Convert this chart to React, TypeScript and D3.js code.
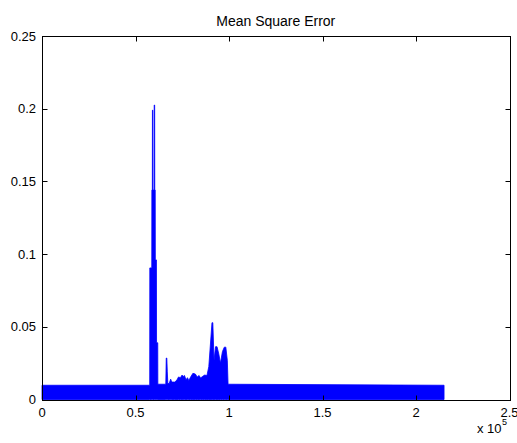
import React from "react";
import * as d3 from "d3";

// Upper envelope of the per-sample mean square error (sample index, value)
const sampleIdx = [
  0, 57600, 57650, 58700, 58750, 59000, 59050, 59250, 59300, 59950,
  60000, 60250, 60300, 60550, 60600, 61200, 61250, 61900, 61950, 66200,
  66450, 66750, 67000, 67300, 68000, 68800, 69400, 71000, 72200, 73000,
  74000, 74900, 75500, 76200, 77000, 77800, 78500, 79500, 80700, 82000,
  83000, 84000, 84800, 86000, 87000, 88200, 89200, 90900, 91350, 92000,
  92800, 93600, 94600, 95400, 96500, 97500, 98300, 99100, 99500, 215000,
];
const mseValue = [
  0.0098, 0.0098, 0.0905, 0.0905, 0.144, 0.144, 0.199, 0.199, 0.144, 0.144,
  0.2025, 0.2025, 0.144, 0.144, 0.096, 0.096, 0.039, 0.039, 0.0105, 0.0105,
  0.0285, 0.0285, 0.019, 0.011, 0.011, 0.014, 0.012, 0.012, 0.0135, 0.0155,
  0.015, 0.0168, 0.0158, 0.0165, 0.0135, 0.015, 0.013, 0.0155, 0.018, 0.0175,
  0.0155, 0.0165, 0.0148, 0.016, 0.0168, 0.0165, 0.0226, 0.0528, 0.0528, 0.027,
  0.0363, 0.0363, 0.031, 0.025, 0.033, 0.036, 0.036, 0.027, 0.0105, 0.0098,
];

const xTicks = [0, 50000, 100000, 150000, 200000, 250000];
const xTickLabels = ["0", "0.5", "1", "1.5", "2", "2.5"];
const yTicks = [0, 0.05, 0.1, 0.15, 0.2, 0.25];
const yTickLabels = ["0", "0.05", "0.1", "0.15", "0.2", "0.25"];

const W = 517;
const H = 443;
const left = 42;
const right = 509.5;
const top = 36;
const bottom = 399.5;
const font = "'Liberation Sans', Arial, Helvetica, sans-serif";

export default function App() {
  const x = d3.scaleLinear().domain([0, 250000]).range([left, right]);
  const y = d3.scaleLinear().domain([0, 0.25]).range([bottom, top]);

  const pts: [number, number][] = sampleIdx.map((s, i) => [s, mseValue[i]]);
  const area = d3
    .area<[number, number]>()
    .x((d) => x(d[0]))
    .y0(y(0))
    .y1((d) => y(d[1]))
    .curve(d3.curveLinear);

  const tickLen = 5;
  const r = (v: number) => Math.round(v) + 0.5;

  return (
    <svg
      width={W}
      height={H}
      style={{ position: "absolute", left: 0, top: 0, background: "#fff" }}
      fontFamily={font}
    >
      <rect x={0} y={0} width={W} height={H} fill="#fff" />
      <path d={area(pts) || ""} fill="#0000ff" stroke="#0000ff" strokeWidth={0.8} />

      {/* axes box */}
      <rect
        x={r(left)}
        y={r(top)}
        width={Math.round(right) - Math.round(left)}
        height={Math.round(bottom) - Math.round(top)}
        fill="none"
        stroke="#000"
        strokeWidth={1}
      />

      {/* x ticks, inward on bottom and top */}
      {xTicks.map((t, i) => (
        <g key={"x" + i}>
          <line x1={r(x(t))} x2={r(x(t))} y1={r(bottom)} y2={r(bottom) - tickLen} stroke="#000" />
          <line x1={r(x(t))} x2={r(x(t))} y1={r(top)} y2={r(top) + tickLen} stroke="#000" />
          <text x={x(t)} y={417} fontSize={13} textAnchor="middle" fill="#000">
            {xTickLabels[i]}
          </text>
        </g>
      ))}

      {/* y ticks, inward on left and right */}
      {yTicks.map((t, i) => (
        <g key={"y" + i}>
          <line x1={r(left)} x2={r(left) + tickLen} y1={r(y(t))} y2={r(y(t))} stroke="#000" />
          <line x1={r(right)} x2={r(right) - tickLen} y1={r(y(t))} y2={r(y(t))} stroke="#000" />
          <text x={36} y={y(t) + 4.5} fontSize={13} textAnchor="end" fill="#000">
            {yTickLabels[i]}
          </text>
        </g>
      ))}

      {/* exponent label */}
      <text x={477} y={433} fontSize={13} fill="#000">
        x 10
      </text>
      <text x={502} y={425} fontSize={9} fill="#000">
        5
      </text>

      <text x={(left + right) / 2} y={26} fontSize={14} textAnchor="middle" fill="#000">
        Mean Square Error
      </text>
    </svg>
  );
}
